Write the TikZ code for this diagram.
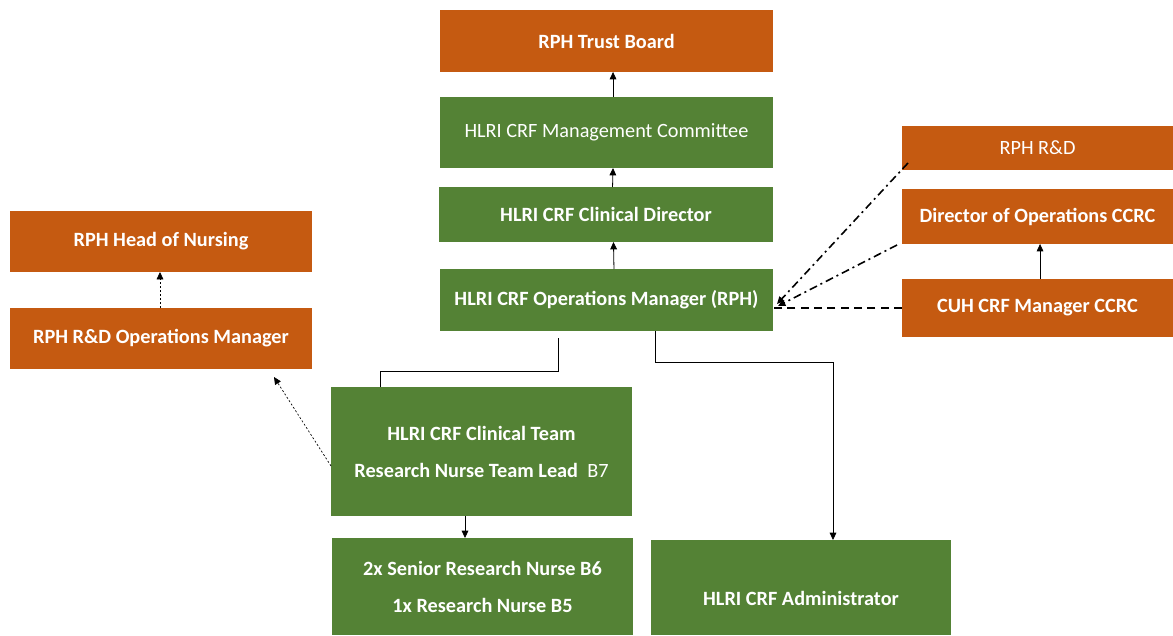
\documentclass[tikz,border=0pt]{standalone}
\usepackage{fontspec}
\setmainfont{Carlito}
\usetikzlibrary{arrows.meta}
\definecolor{rorange}{HTML}{C55A11}
\definecolor{rgreen}{HTML}{548235}
\tikzset{
 box/.style={rectangle, inner sep=0pt, outer sep=0pt, text=white, align=center,
   font=\fontsize{15.2}{27.75}\selectfont\bfseries},
 obox/.style={box, fill=rorange},
 gbox/.style={box, fill=rgreen},
 arr/.style={-{Triangle[width=5pt,length=5.5pt]}, line width=0.6pt, black},
 link/.style={line width=0.6pt, black},
 dotarr/.style={-{Triangle[width=5pt,length=5.5pt]}, line width=0.5pt, black, dash pattern=on 1.5pt off 1.5pt},
 dashdotarr/.style={-{Triangle[width=5pt,length=5.5pt]}, line width=1.2pt, black, dash pattern=on 6pt off 3pt on 1.5pt off 3pt},
 dashln/.style={line width=1.2pt, black, dash pattern=on 6pt off 4pt},
}
\newcommand{\bx}[7]{\node[#6, minimum width={(#4-#2)*0.75pt}, minimum height={(#5-#3)*0.75pt}] (#1) at ({(#2+#4)/2},{(#3+#5)/2}) {#7};}
\begin{document}
\begin{tikzpicture}[x=0.75pt,y=-0.75pt]
\useasboundingbox (0,0) rectangle (1173,635);
% boxes
\bx{board}{440}{10}{773}{72}{obox}{RPH Trust Board}
\bx{comm}{440}{97}{773}{168}{gbox}{\mdseries HLRI CRF Management Committee}
\bx{dir}{439}{187}{773}{242}{gbox}{HLRI CRF Clinical Director}
\bx{ops}{440}{269}{773}{331}{gbox}{HLRI CRF Operations Manager (RPH)}
\bx{rd}{902}{126}{1173}{170}{obox}{\mdseries RPH R\&D}
\bx{doo}{902}{189}{1173}{244}{obox}{Director of Operations CCRC}
\bx{cuh}{902}{279}{1173}{337}{obox}{CUH CRF Manager CCRC}
\bx{hon}{10}{211}{312}{272}{obox}{RPH Head of Nursing}
\bx{rdom}{10}{308}{312}{369}{obox}{RPH R\&D Operations Manager}
\bx{team}{331}{387}{632}{516}{gbox}{HLRI CRF Clinical Team\\Research Nurse Team Lead \ \mdseries B7}
\bx{nurse}{332}{538}{633}{635}{gbox}{2x Senior Research Nurse B6\\1x Research Nurse B5}
\bx{admin}{651}{540}{951}{635}{gbox}{\mbox{}\\HLRI CRF Administrator}
% vertical chain
\draw[arr] ([xshift=5.6pt]ops.north) -- ([xshift=5.6pt]dir.south);
\draw[arr] ([xshift=4.9pt]dir.north) -- ([xshift=4.9pt]comm.south);
\draw[arr] ([xshift=4.9pt]comm.north) -- ([xshift=4.9pt]board.south);
\draw[arr] ([xshift=1.9pt]cuh.north) -- ([xshift=1.9pt]doo.south);
% ops to right side
\coordinate (tip1) at (777,304);
\coordinate (tip2) at (778,306);
\coordinate (rdend) at (908,163);
\coordinate (dooend) at (897,245);
\draw[dashdotarr] (rdend) -- (tip1);
\draw[dashdotarr] (dooend) -- (tip2);
\draw[dashln] (cuh.west |- 0,308) -- (ops.east |- 0,308);
% ops down to team and admin
\draw[link] ([yshift=-5.25pt]ops.south -| 558,0) |- (380,371) -- (team.north -| 380,0);
\draw[arr] (ops.south -| 655,0) |- (833,362) -- (admin.north -| 833,0);
\draw[arr] (team.south -| 465,0) -- (nurse.north -| 465,0);
% dotted links
\coordinate (rdomtip) at (274,377);
\draw[dotarr] (team.west |- 0,466) -- (rdomtip);
\draw[dotarr] (rdom.north -| 160,0) -- (hon.south -| 160,0);
\end{tikzpicture}
\end{document}
